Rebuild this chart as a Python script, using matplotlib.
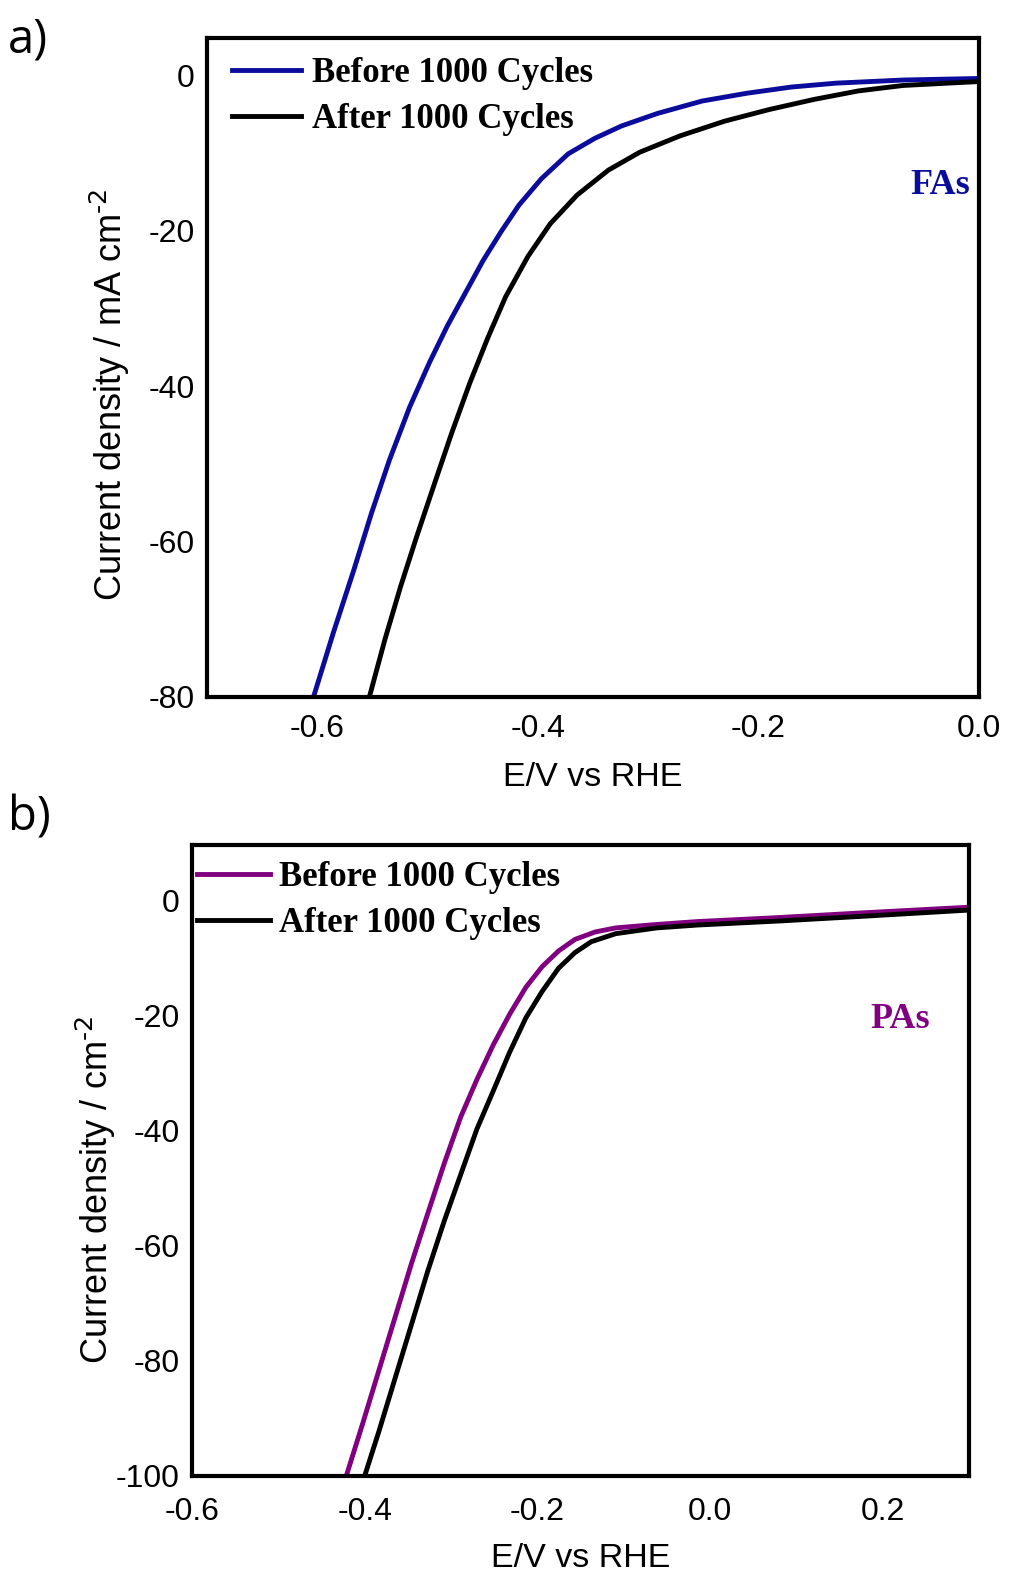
import matplotlib.pyplot as plt

# panel a) FAs
fa_before_E = [-0.6034, -0.5851, -0.5669, -0.5507, -0.5345, -0.5162, -0.4980,
               -0.4818, -0.4656, -0.4494, -0.4331, -0.4170, -0.3966, -0.3723,
               -0.3481, -0.3237, -0.2913, -0.2507, -0.2102, -0.1697, -0.1291,
               -0.0684, 0.0]
fa_before_j = [-80.0, -71.6, -63.7, -56.3, -49.5, -42.7, -36.9, -32.2, -28.0,
               -23.8, -20.1, -16.7, -13.3, -10.1, -8.1, -6.5, -4.9, -3.3, -2.3,
               -1.5, -1.0, -0.6, -0.4]
fa_after_E = [-0.5527, -0.5386, -0.5244, -0.5101, -0.4940, -0.4777, -0.4616,
              -0.4453, -0.4291, -0.4088, -0.3886, -0.3642, -0.3359, -0.3075,
              -0.2711, -0.2305, -0.1900, -0.1494, -0.1089, -0.0684, -0.0278, 0.0]
fa_after_j = [-80.0, -72.6, -65.8, -59.5, -52.7, -45.9, -39.6, -33.8, -28.5,
              -23.3, -19.1, -15.4, -12.2, -9.9, -7.8, -5.9, -4.4, -3.1, -2.0,
              -1.3, -1.0, -0.8]

# panel b) PAs
pa_before_E = [-0.4213, -0.4023, -0.3834, -0.3645, -0.3456, -0.3267, -0.3078,
               -0.2889, -0.2699, -0.2510, -0.2321, -0.2132, -0.1943, -0.1754,
               -0.1565, -0.1329, -0.1092, -0.0618, -0.0146, 0.0799, 0.1746, 0.3]
pa_before_j = [-100.0, -90.9, -81.6, -72.3, -63.0, -54.3, -45.7, -37.7, -31.1,
               -25.1, -19.8, -15.1, -11.5, -8.8, -6.8, -5.5, -4.8, -4.2, -3.7,
               -3.0, -2.2, -1.2]
pa_after_E = [-0.4000, -0.3834, -0.3645, -0.3456, -0.3267, -0.3078, -0.2889,
              -0.2699, -0.2510, -0.2321, -0.2132, -0.1943, -0.1754, -0.1565,
              -0.1376, -0.1092, -0.0618, -0.0146, 0.0799, 0.1746, 0.3]
pa_after_j = [-100.0, -92.2, -82.9, -73.6, -64.3, -55.7, -47.7, -39.7, -33.1,
              -26.4, -20.4, -15.8, -11.8, -9.1, -7.2, -5.8, -4.8, -4.3, -3.6,
              -2.8, -1.7]

labels = ["Before 1000 Cycles", "After 1000 Cycles"]
blue = "#0c0c9c"
purple = "#800080"

plt.rcParams["font.family"] = ["Liberation Sans", "DejaVu Sans"]
leg_font = {"family": "Liberation Serif", "weight": "bold", "size": 25}
tag_font = {"family": "Liberation Serif", "weight": "bold", "size": 26}

fig = plt.figure(figsize=(10.30, 15.73), dpi=100)


def style_axes(ax, xpad):
    for s in ax.spines.values():
        s.set_linewidth(3)
    ax.tick_params(length=0, labelsize=23)
    ax.tick_params(axis="x", pad=xpad)
    ax.tick_params(axis="y", pad=9)


# ---- a) ----
ax1 = fig.add_axes([0.201, 0.5569, 0.749, 0.4189])
ax1.plot(fa_before_E, fa_before_j, color=blue, lw=3.5, label=labels[0])
ax1.plot(fa_after_E, fa_after_j, color="black", lw=3.5, label=labels[1])
ax1.set_xlim(-0.7, 0.0)
ax1.set_ylim(-80, 4.8)
ax1.set_xticks([-0.6, -0.4, -0.2, 0.0])
ax1.set_xticklabels(["-0.6", "-0.4", "-0.2", "0.0"])
ax1.set_yticks([0, -20, -40, -60, -80])
ax1.set_yticklabels(["0", "-20", "-40", "-60", "-80"])
style_axes(ax1, 12)
ax1.set_xlabel("E/V vs RHE", fontsize=24.5, labelpad=13.5)
ax1.set_ylabel(r"Current density / mA cm$^{\text{-2}}$", fontsize=26,
               labelpad=12, y=0.458)
ax1.legend(loc="upper left", bbox_to_anchor=(0.0144, 0.992), frameon=False,
           prop=leg_font, handlelength=2.0, handletextpad=0.29,
           labelspacing=0.37, borderaxespad=0.0)
ax1.text(0.9896, 0.776, "FAs", transform=ax1.transAxes, ha="right",
         va="center", color=blue, fontdict=tag_font)
fig.text(0.008, 0.990, "a)", fontsize=34, family="Open Sans", va="top")

# ---- b) ----
ax2 = fig.add_axes([0.1864, 0.0617, 0.7544, 0.4011])
ax2.plot(pa_before_E, pa_before_j, color=purple, lw=3.5, label=labels[0])
ax2.plot(pa_after_E, pa_after_j, color="black", lw=3.5, label=labels[1])
ax2.set_xlim(-0.6, 0.3)
ax2.set_ylim(-100, 9.6)
ax2.set_xticks([-0.6, -0.4, -0.2, 0.0, 0.2])
ax2.set_xticklabels(["-0.6", "-0.4", "-0.2", "0.0", "0.2"])
ax2.set_yticks([0, -20, -40, -60, -80, -100])
ax2.set_yticklabels(["0", "-20", "-40", "-60", "-80", "-100"])
style_axes(ax2, 15.5)
ax2.set_xlabel("E/V vs RHE", fontsize=24.5, labelpad=11)
ax2.set_ylabel(r"Current density / cm$^{\text{-2}}$", fontsize=26,
               labelpad=-2, y=0.453)
ax2.legend(loc="upper left", bbox_to_anchor=(-0.0115, 0.996), frameon=False,
           prop=leg_font, handlelength=2.1, handletextpad=0.27,
           labelspacing=0.37, borderaxespad=0.0)
ax2.text(0.950, 0.724, "PAs", transform=ax2.transAxes, ha="right",
         va="center", color=purple, fontdict=tag_font)
fig.text(0.008, 0.495, "b)", fontsize=34, family="Open Sans", va="top")

fig.savefig("out.png", dpi=100)
